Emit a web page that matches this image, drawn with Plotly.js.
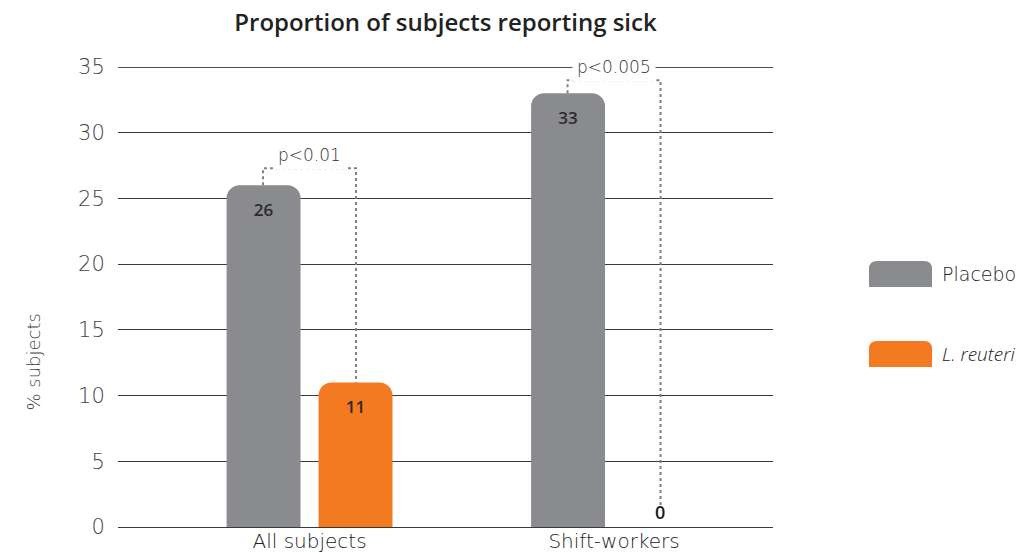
<!DOCTYPE html>
<html><head><meta charset="utf-8">
<script src="https://cdn.plot.ly/plotly-3.0.1.min.js"></script>
<style>html,body{margin:0;padding:0;background:#fff}</style>
</head><body>
<div id="chart" style="width:1026px;height:553px"></div>
<script>
const categories = ["All subjects", "Shift-workers"];
const placebo = [26, 33];
const reuteri = [11, 0];
const seriesNames = ["Placebo", "L. reuteri"];
const pvalues = ["p<0.01", "p<0.005"];
const yTicks = [0, 5, 10, 15, 20, 25, 30, 35];

const GRAY = "#8a8b8e", ORANGE = "#f47a22";
const OFF = 0.1527;

const traces = [
  { type: "bar", name: seriesNames[0], x: categories, y: placebo,
    marker: { color: GRAY, cornerradius: 13 },
    text: placebo.map(String), textposition: "inside", insidetextanchor: "end",
    textfont: { family: "Open Sans", size: 17, weight: 600, color: "#2b2b2b" } },
  { type: "bar", name: seriesNames[1], x: categories, y: reuteri,
    marker: { color: ORANGE, cornerradius: 13 },
    text: reuteri.map(String), textposition: reuteri.map(v => v > 0 ? "inside" : "outside"), insidetextanchor: "end",
    textfont: { family: "Open Sans", size: 17, weight: 600, color: "#2b2b2b" },
    outsidetextfont: { family: "Open Sans", size: 18, weight: 600, color: "#1a1a1a" }, cliponaxis: false }
];

const L = 118, R = 253, T = 67, B = 26, W = 1026, H = 553;
const pw = W - L - R, ph = H - T - B;
const px2x = v => (v - L) / pw, py2y = v => (H - B - v) / ph;

const shapes = [
  { type: "line", xref: "paper", yref: "y", x0: 0, x1: 1, y0: 35, y1: 35, layer: "below",
    line: { color: "#111", width: 1.3 } }
];
const annotations = [];
const dot = { color: "#808080", width: 2, dash: "dot" };
const bracketTop = [27.3, 34.0];
const rightEnd = reuteri.map((v, i) => v > 0 ? v : 1.6);
const labelPx = [155, 67];
categories.forEach((c, i) => {
  const xl = i - OFF, xr = i + OFF;
  shapes.push({ type: "path", xref: "x", yref: "y",
    path: `M ${xl},${placebo[i]} L ${xl},${bracketTop[i]} L ${xr},${bracketTop[i]} L ${xr},${rightEnd[i]}`,
    line: dot, layer: "above" });
  annotations.push({ xref: "x", yref: "paper", x: i, y: py2y(labelPx[i]), yanchor: "middle", text: pvalues[i],
    showarrow: false, bgcolor: "#fff", borderpad: 4,
    font: { family: "DejaVu Sans", weight: 200, size: 17, color: "#333" } });
});

// Manual legend (paper coordinates)
const legY = [274, 354];
const legColors = [GRAY, ORANGE];
const legTexts = ["Placebo", "<i>L. reuteri</i>"];
const legFonts = [
  { family: "DejaVu Sans", weight: 200, size: 19, color: "#222" },
  { family: "Open Sans", weight: 300, size: 19, color: "#222" }
];
legY.forEach((yy, k) => {
  const x0 = 869, x1 = 932, y0 = yy - 13, y1 = yy + 13, r = 8;
  const X0 = px2x(x0), X1 = px2x(x1), Yb = py2y(y1), Yt = py2y(y0);
  const rx = r / pw, ry = r / ph;
  shapes.push({ type: "path", xref: "paper", yref: "paper", layer: "above",
    path: `M ${X0},${Yb} L ${X0},${Yt - ry} Q ${X0},${Yt} ${X0 + rx},${Yt} L ${X1 - rx},${Yt} Q ${X1},${Yt} ${X1},${Yt - ry} L ${X1},${Yb} Z`,
    fillcolor: legColors[k], line: { width: 0 } });
  annotations.push({ xref: "paper", yref: "paper", x: px2x(940), y: py2y(yy), xanchor: "left", yanchor: "middle",
    text: legTexts[k], showarrow: false, font: legFonts[k] });
});
annotations.push({ xref: "paper", yref: "paper", x: px2x(20), y: py2y(362), text: "% subjects",
  textangle: -90, showarrow: false, font: { family: "DejaVu Sans", weight: 200, size: 18, color: "#444" } });

const layout = {
  width: W, height: H,
  margin: { l: L, r: R, t: T, b: B },
  paper_bgcolor: "#fff", plot_bgcolor: "#fff",
  showlegend: false,
  barmode: "group", bargap: 0.396, bargroupgap: 0.196,
  title: { text: "Proportion of subjects reporting sick", x: 0.5, xref: "paper", xanchor: "center",
    y: 1 - 23 / H, yanchor: "middle", yref: "container",
    font: { family: "Open Sans", size: 24, weight: 600, color: "#222" } },
  xaxis: { type: "category", range: [-0.629, 1.522], showgrid: false, showline: false, zeroline: false,
    ticks: "", tickfont: { family: "DejaVu Sans", weight: 200, size: 20, color: "#222" } },
  yaxis: { range: [0, 35], tickvals: yTicks, showgrid: true, gridcolor: "#3a3a3a", gridwidth: 1,
    zeroline: true, zerolinecolor: "#3a3a3a", zerolinewidth: 1, showline: false,
    ticks: "outside", ticklen: 8, tickcolor: "rgba(0,0,0,0)",
    tickfont: { family: "DejaVu Sans", weight: 200, size: 21, color: "#444" } },
  shapes: shapes, annotations: annotations
};

Plotly.newPlot("chart", traces, layout, { displayModeBar: false, staticPlot: true });
</script>
</body></html>
